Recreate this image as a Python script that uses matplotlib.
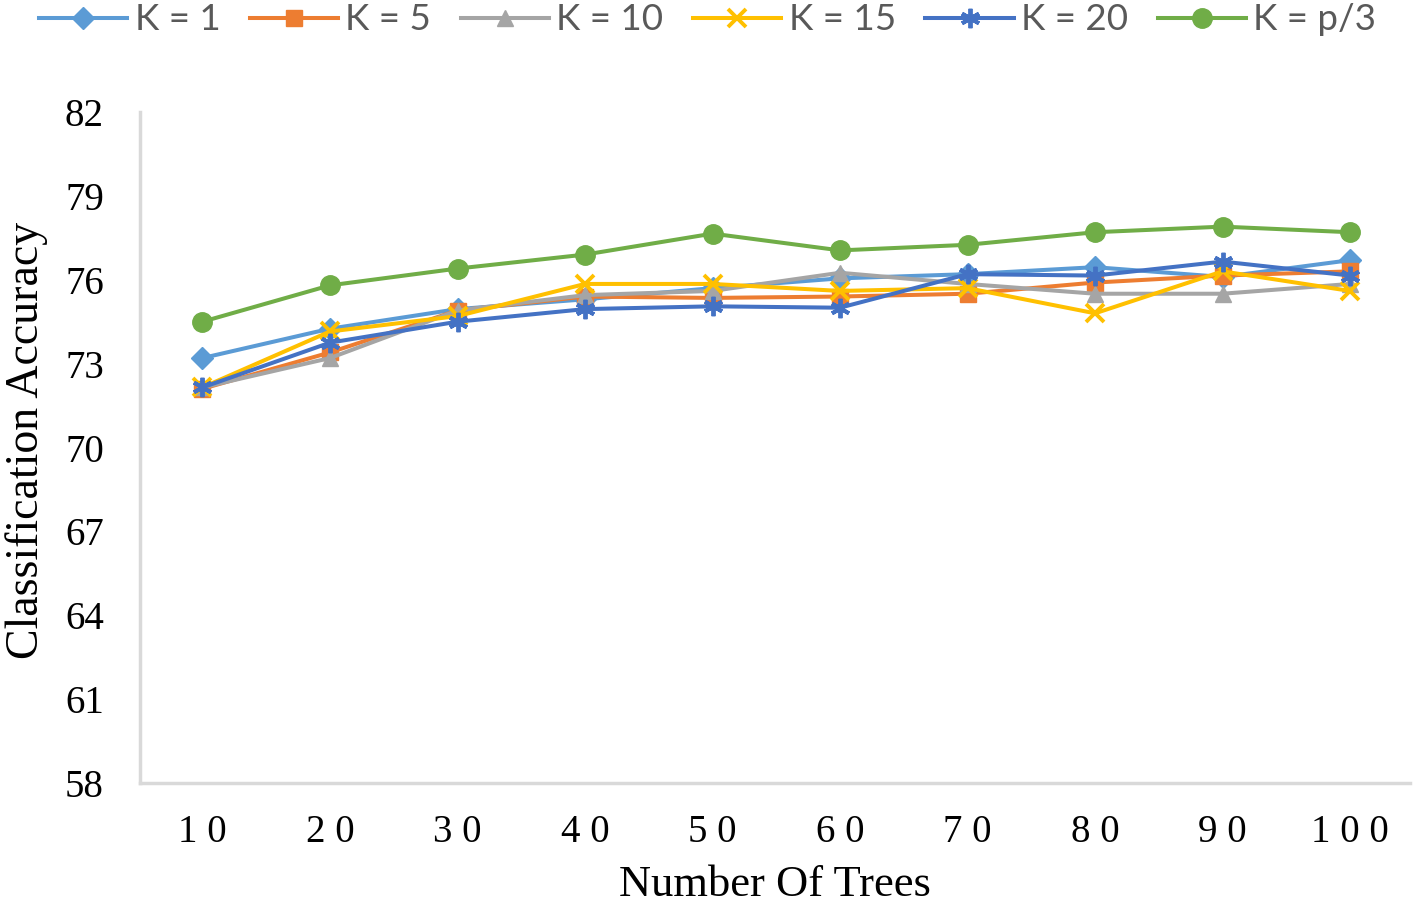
import numpy as np
import matplotlib.pyplot as plt
from matplotlib.lines import Line2D

trees = [10, 20, 30, 40, 50, 60, 70, 80, 90, 100]
tree_labels = ["1 0", "2 0", "3 0", "4 0", "5 0", "6 0", "7 0", "8 0", "9 0", "1 0 0"]

k1 = [73.2, 74.25, 74.95, 75.3, 75.7, 76.05, 76.2, 76.45, 76.1, 76.7]
k5 = [72.1, 73.4, 74.9, 75.4, 75.35, 75.4, 75.5, 75.9, 76.15, 76.3]
k10 = [72.15, 73.2, 74.9, 75.45, 75.6, 76.25, 75.85, 75.5, 75.5, 75.85]
k15 = [72.15, 74.15, 74.7, 75.85, 75.85, 75.6, 75.7, 74.8, 76.3, 75.6]
k20 = [72.15, 73.75, 74.5, 74.95, 75.05, 75.0, 76.2, 76.15, 76.65, 76.15]
kp3 = [74.5, 75.8, 76.4, 76.9, 77.65, 77.05, 77.25, 77.7, 77.9, 77.7]

yticks = [58, 61, 64, 67, 70, 73, 76, 79, 82]

series = [
    ("K = 1", k1, "#5B9BD5", "D", 11),
    ("K = 5", k5, "#ED7D31", "s", 12),
    ("K = 10", k10, "#A5A5A5", "^", 12),
    ("K = 15", k15, "#FFC000", "x", 13),
    ("K = 20", k20, "#4472C4", (6, 2, 0), 14),
    ("K = p/3", kp3, "#70AD47", "o", 14),
]


def main():
    fig = plt.figure(figsize=(14.15, 9.06), dpi=100)
    ax = fig.add_axes([140 / 1415, 1 - 783 / 906, 1270 / 1415, 671 / 906])

    pos = np.arange(len(trees))
    handles = []
    for name, vals, col, mk, ms in series:
        mew = 2.8 if mk in ("x", (6, 2, 0)) else 1
        ax.plot(pos, vals, color=col, lw=2.9, marker=mk, markersize=ms,
                markeredgewidth=mew, markerfacecolor=col, markeredgecolor=col)
        handles.append(Line2D([], [], color=col, lw=2.9, marker=mk, markersize=ms,
                              markeredgewidth=mew, markerfacecolor=col,
                              markeredgecolor=col, label=name))

    ax.set_xlim(-0.49, len(trees) - 0.53)
    ax.set_ylim(58, 82)
    ax.set_yticks(yticks)
    ax.set_xticks(pos)
    ax.set_xticklabels(tree_labels)

    for s in ["top", "right"]:
        ax.spines[s].set_visible(False)
    for s in ["left", "bottom"]:
        ax.spines[s].set_color("#d9d9d9")
        ax.spines[s].set_linewidth(2.5)

    ax.tick_params(axis="both", length=0, labelsize=28, labelcolor="black")
    ax.tick_params(axis="y", pad=26)
    ax.tick_params(axis="x", pad=22)
    for lab in ax.get_xticklabels() + ax.get_yticklabels():
        lab.set_family("Liberation Serif")

    ax.set_xlabel("Number Of Trees", family="Liberation Serif", fontsize=32, va="center")
    ax.xaxis.set_label_coords(0.5, -0.152)
    ax.set_ylabel("Classification Accuracy", family="Liberation Serif", fontsize=33, va="center")
    ax.yaxis.set_label_coords(-0.089, 0.51)

    leg = fig.legend(handles=handles, loc="center", bbox_to_anchor=(0.5, 1 - 20 / 906),
                     ncol=6, frameon=False, handlelength=2.4, handletextpad=0.2,
                     columnspacing=0.8, prop={"family": "Lato", "size": 26.5})
    for t in leg.get_texts():
        t.set_color("#595959")

    fig.savefig("out.png", dpi=100)


if __name__ == "__main__":
    main()
